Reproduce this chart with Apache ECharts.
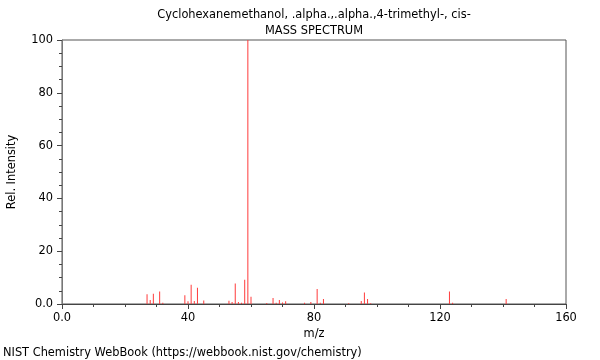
<!DOCTYPE html>
<html>
<head>
<meta charset="utf-8">
<script src="https://cdn.jsdelivr.net/npm/echarts@6/dist/echarts.min.js"></script>
<style>html,body{margin:0;padding:0;background:#fff}#c{width:600px;height:360px}</style>
</head>
<body>
<div id="c"></div>
<script>
var titleLine1 = 'Cyclohexanemethanol, .alpha.,.alpha.,4-trimethyl-, cis-';
var titleLine2 = 'MASS SPECTRUM';
var footer = 'NIST Chemistry WebBook (https://webbook.nist.gov/chemistry)';
var mz = [27, 28, 29, 31, 32, 39, 40, 41, 42, 43, 45, 53, 54, 55, 56, 57, 58, 59, 60, 65, 67, 68, 69, 70, 71, 77, 79, 81, 82, 83, 91, 95, 96, 97, 98, 123, 124, 141];
var intensity = [3.7, 1.5, 3.9, 4.7, 0.5, 3.3, 1.0, 7.3, 1.1, 6.2, 1.3, 1.2, 0.8, 7.8, 0.8, 0.5, 9.2, 100, 2.7, 0.4, 2.3, 0.5, 1.5, 0.6, 1.0, 0.5, 0.8, 5.7, 0.5, 1.9, 0.3, 1.1, 4.4, 1.9, 0.3, 4.7, 0.5, 1.9];
var xTicks = [0, 40, 80, 120, 160];
var yTicks = [0, 20, 40, 60, 80, 100];

var data = mz.map(function (m, i) { return [m, intensity[i]]; });
var fmt = function (v) { return v === 0 ? '0.0' : String(v); };
var font = 'DejaVu Sans';
var fs = 11.4;
var cssFont = fs + 'px "DejaVu Sans"';
var cx = 62 + (600 - 62 - 34) / 2;

var chart = echarts.init(document.getElementById('c'), null, {renderer: 'canvas'});
chart.setOption({
  animation: false,
  backgroundColor: '#fff',
  textStyle: {fontFamily: font},
  grid: {left: 62, right: 34, top: 40, bottom: 56, containLabel: false, outerBoundsMode: 'none',
         show: true, borderColor: '#555', borderWidth: 1, backgroundColor: 'transparent'},
  graphic: [
    {type: 'text', x: cx, y: 10, style: {text: titleLine1, font: cssFont, fill: '#000', align: 'center'}},
    {type: 'text', x: cx, y: 26, style: {text: titleLine2, font: cssFont, fill: '#000', align: 'center'}},
    {type: 'text', x: 3, y: 348, style: {text: footer, font: cssFont, fill: '#000'}}
  ],
  xAxis: {
    type: 'value', min: xTicks[0], max: xTicks[xTicks.length - 1], interval: 40,
    name: 'm/z', nameLocation: 'middle', nameGap: 23,
    nameTextStyle: {fontFamily: font, fontSize: fs, color: '#000'},
    axisLine: {show: true, onZero: false, lineStyle: {color: '#444', width: 1}},
    axisTick: {show: true, length: 5, lineStyle: {color: '#444'}},
    minorTick: {show: true, splitNumber: 4, length: 3, lineStyle: {color: '#444'}},
    axisLabel: {formatter: fmt, fontFamily: font, fontSize: fs, color: '#000', margin: 9},
    splitLine: {show: false}
  },
  yAxis: {
    type: 'value', min: yTicks[0], max: yTicks[yTicks.length - 1], interval: 20,
    name: 'Rel. Intensity', nameLocation: 'middle', nameGap: 44,
    nameTextStyle: {fontFamily: font, fontSize: fs, color: '#000'},
    axisLine: {show: true, onZero: false, lineStyle: {color: '#777', width: 1}},
    axisTick: {show: true, length: 5, lineStyle: {color: '#444'}},
    minorTick: {show: true, splitNumber: 4, length: 3, lineStyle: {color: '#444'}},
    axisLabel: {formatter: fmt, fontFamily: font, fontSize: fs, color: '#000', margin: 9},
    splitLine: {show: false}
  },
  series: [{
    type: 'bar',
    data: data,
    barWidth: 1,
    itemStyle: {color: '#ff3b3b'},
    silent: true
  }]
});
</script>
</body>
</html>
